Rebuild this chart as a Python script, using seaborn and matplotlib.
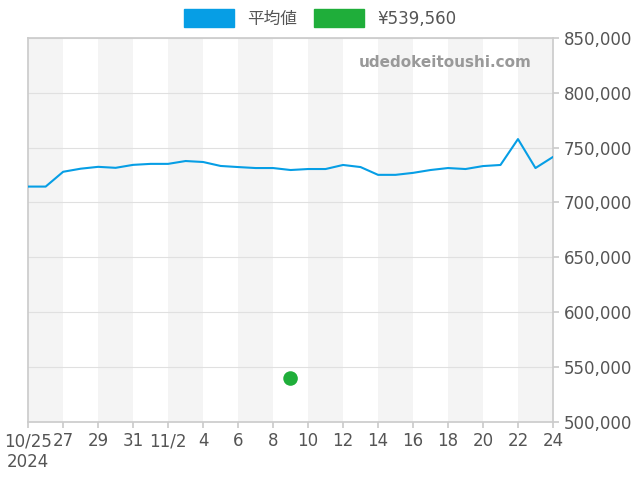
import matplotlib
matplotlib.use("Agg")
import matplotlib.pyplot as plt
import matplotlib.patches as mpatches
import seaborn as sns
import pandas as pd
import numpy as np

dates = pd.date_range("2024-10-25", "2024-11-24", freq="D")
avg_values = [714500, 714500, 728000, 730800, 732500, 731600, 734300, 735200, 735200,
              737800, 736900, 733300, 732300, 731400, 731400, 729600, 730500, 730500,
              734200, 732300, 725200, 725200, 727000, 729600, 731400, 730500, 733200,
              734200, 757800, 731400, 741500]
point_date = pd.Timestamp("2024-11-09")
point_value = 539560
tick_labels = ["10/25\n2024", "27", "29", "31", "11/2", "4", "6", "8", "10", "12",
               "14", "16", "18", "20", "22", "24"]

sns.set_theme(style="white")
plt.rcParams['font.family'] = ['DejaVu Sans', 'Noto Sans CJK JP']

df = pd.DataFrame({"day": np.arange(len(dates)), "value": avg_values})
pt = pd.DataFrame({"day": [(point_date - dates[0]).days], "value": [point_value]})

fig = plt.figure(figsize=(6.4, 4.8), dpi=100)
ax = fig.add_axes([0.044, 0.121, 0.820, 0.800])

for s in range(0, 30, 4):
    ax.axvspan(s, s + 2, color="#f4f4f4", zorder=0, lw=0)

sns.lineplot(data=df, x="day", y="value", ax=ax, color="#069ee5", lw=1.5, zorder=3)
sns.scatterplot(data=pt, x="day", y="value", ax=ax, color="#1fae3a", s=110, zorder=4, edgecolor="none")

ax.set_xlim(0, 30)
ax.set_ylim(500000, 850000)
ax.set_xticks(np.arange(0, 31, 2))
ax.set_xticklabels(tick_labels)
ax.yaxis.tick_right()
ax.set_yticks(np.arange(500000, 850001, 50000))
ax.set_yticklabels([f"{v:,}" for v in range(500000, 850001, 50000)])
ax.tick_params(axis="both", labelsize=12, colors="#555555", length=4)
ax.tick_params(axis="x", direction="out", bottom=True, color="#cccccc")
ax.tick_params(axis="y", right=True, color="#cccccc")
ax.grid(axis="y", color="#e0e0e0", lw=0.8)
ax.set_axisbelow(True)
ax.set_xlabel("")
ax.set_ylabel("")
for sp in ax.spines.values():
    sp.set_color("#cccccc")

ax.text(0.96, 0.935, "udedokeitoushi.com", transform=ax.transAxes, ha="right", va="center",
        fontsize=11, color="#999999", fontweight="bold", family="DejaVu Sans")

handles = [mpatches.Patch(color="#069ee5", label="平均値"),
           mpatches.Patch(color="#1fae3a", label="¥539,560")]
fig.legend(handles=handles, loc="upper center", bbox_to_anchor=(0.5, 1.012), ncol=2,
           frameon=False, fontsize=12, handlelength=3, handleheight=1.3, columnspacing=1,
           labelcolor="#555555")

fig.savefig("out.png", dpi=100)
